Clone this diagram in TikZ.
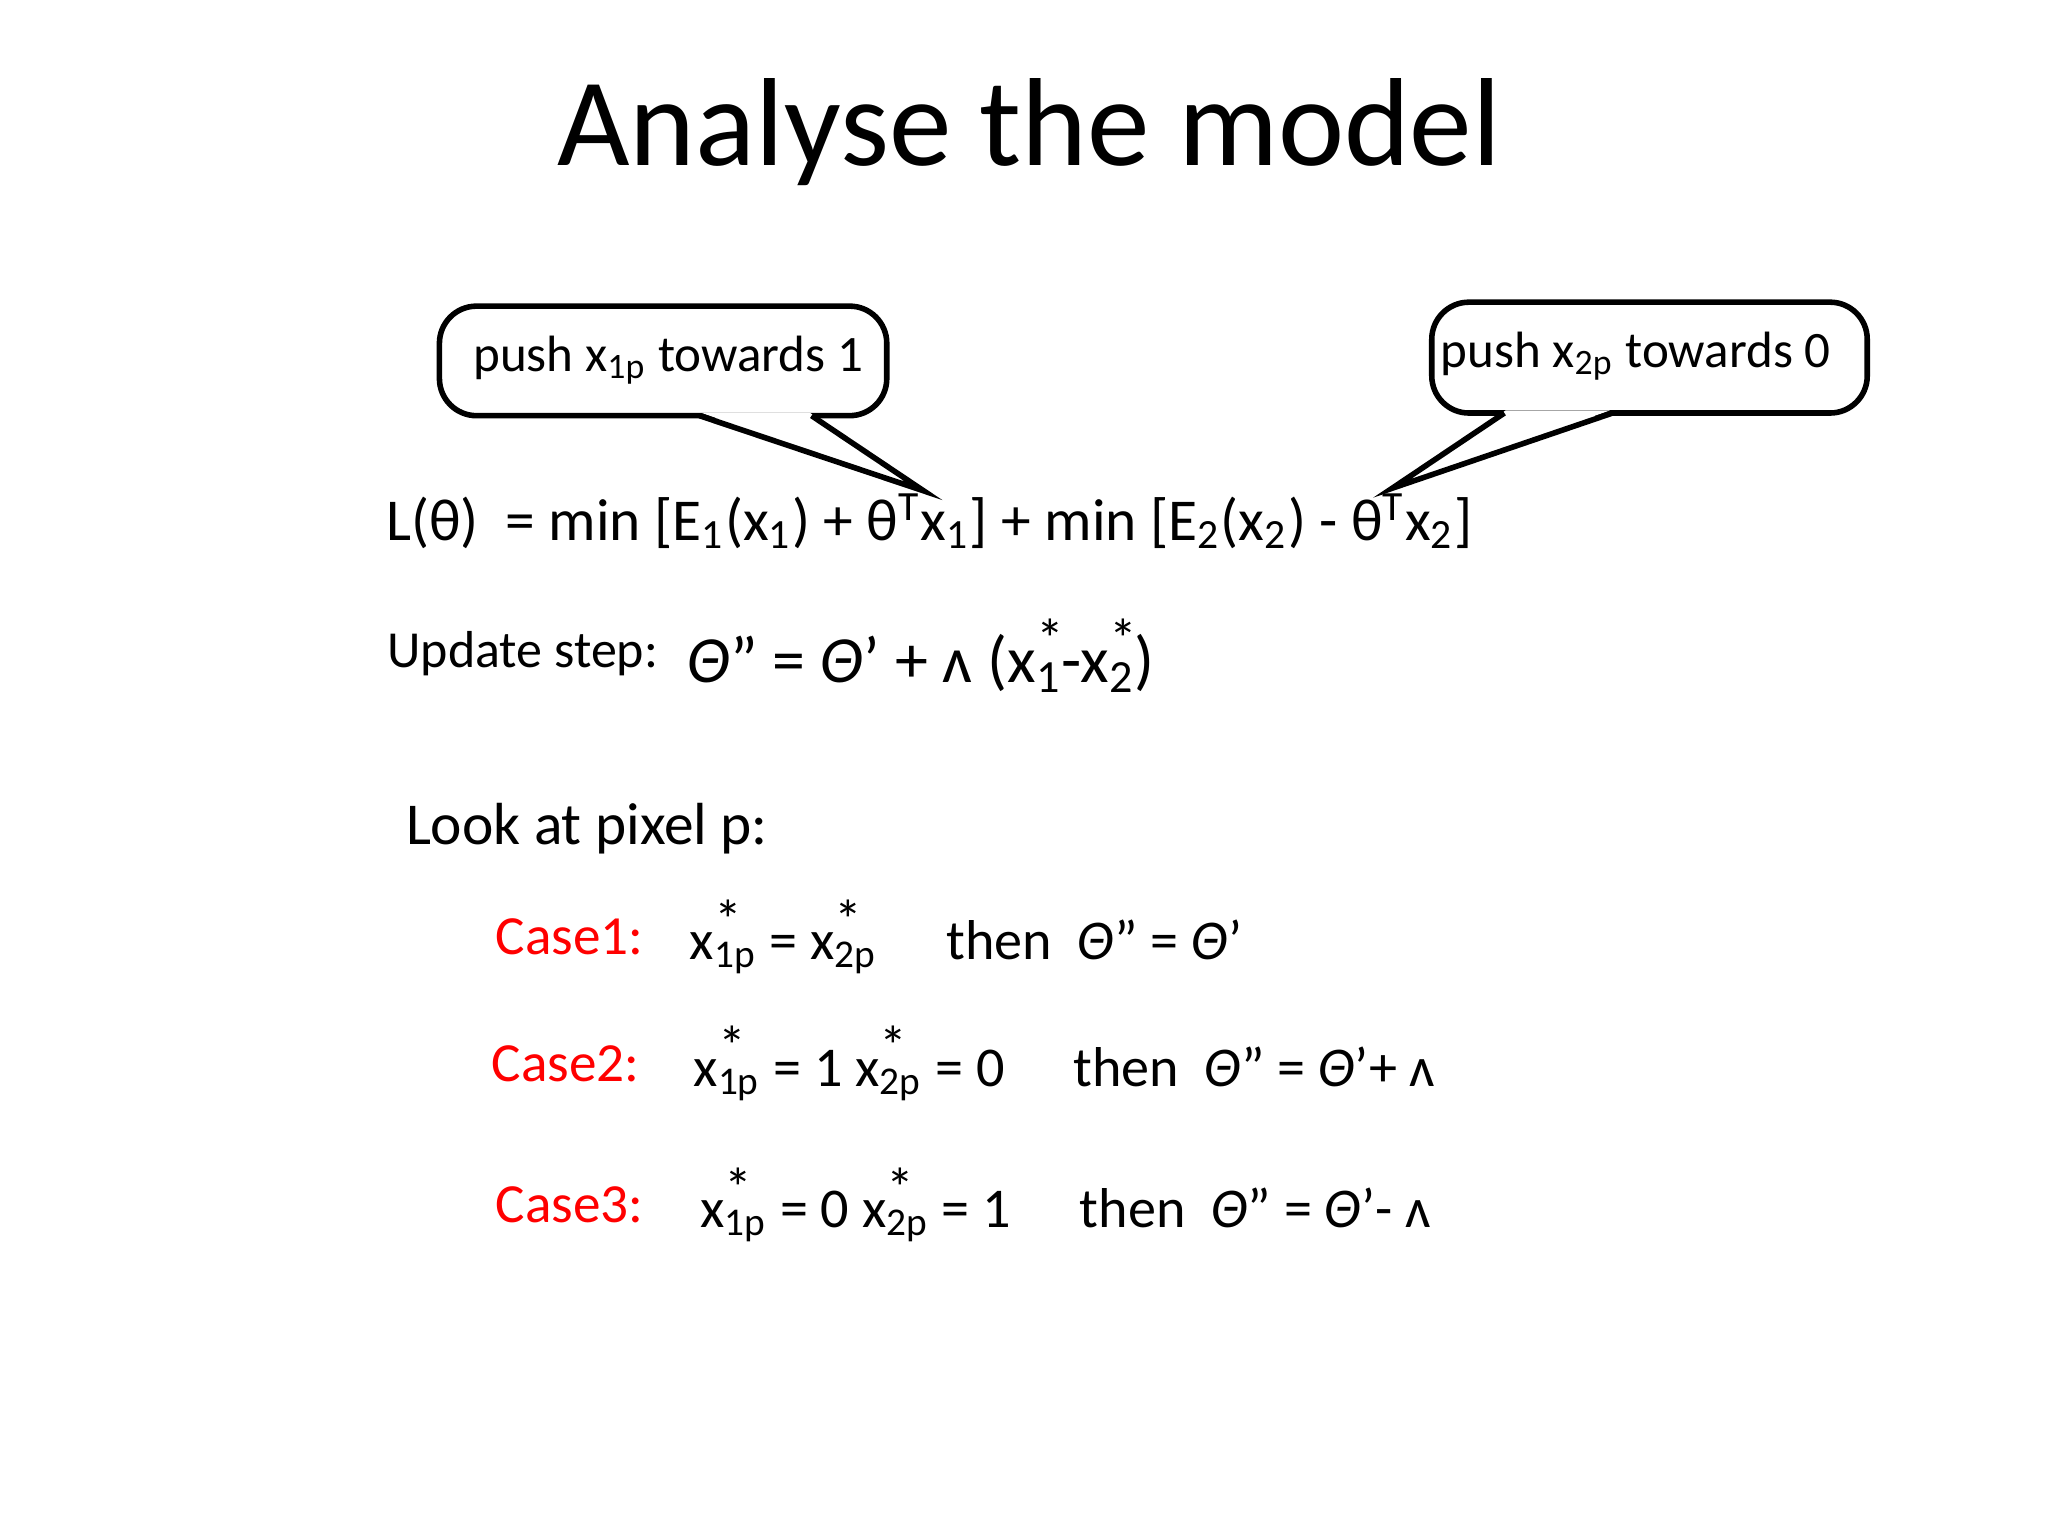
\documentclass[tikz,border=0pt]{standalone}
\usepackage{fontspec}
\setmainfont{Carlito}
\newcommand{\sbs}[1]{\textsubscript{#1}}
\newcommand{\xs}[1]{x\rlap{\textsuperscript{\large *}}\textsubscript{#1}}
\begin{document}
\begin{tikzpicture}[x=0.01cm,y=-0.01cm,
  callout/.style={draw,line width=1.2pt,rounded corners=8pt,fill=white},
  eq/.style={anchor=west,inner sep=0pt,font=\fontsize{12.8}{15}\selectfont},
  casel/.style={anchor=west,inner sep=0pt,font=\fontsize{11.9}{14}\selectfont,text=red},
  caset/.style={anchor=west,inner sep=0pt,font=\fontsize{12.1}{14}\selectfont}]
\useasboundingbox (0,0) rectangle (1552,1164);
\node (title) at (780,100) {\fontsize{27}{32}\selectfont Analyse the model};
% callout 1
\draw[callout] (333,232) rectangle (672,315);
\node[anchor=west,inner sep=0pt,font=\fontsize{11}{13}\selectfont] (c1) at (358,273) {push x\sbs{1p} towards 1};
\coordinate (t1) at (700,372);
\fill[white] (532,313) -- (t1) -- (614,313) -- cycle;
\draw[line width=1.2pt] (530,315) -- (t1) -- (615,315);
% callout 2
\draw[callout] (1085,229) rectangle (1415,313);
\node[anchor=west,inner sep=0pt,font=\fontsize{11}{13}\selectfont] (c2) at (1091,270) {push x\sbs{2p} towards 0};
\coordinate (t2) at (1055,370);
\fill[white] (1141,311) -- (t2) -- (1220,311) -- cycle;
\draw[line width=1.2pt] (1140,313) -- (t2) -- (1222,313);
% equation
\node[eq] (L) at (292,395) {L(θ)\ \ = min [E\sbs{1}(x\sbs{1}) + θ\textsuperscript{T}x\sbs{1}] + min [E\sbs{2}(x\sbs{2}) - θ\textsuperscript{T}x\sbs{2}]};
\node[anchor=west,inner sep=0pt,font=\fontsize{11.2}{13}\selectfont] (up) at (293,495) {Update step:};
\node[anchor=west,inner sep=0pt,font=\fontsize{14.2}{17}\selectfont] (upe) at (520,497) {\textit{Θ}'' = \textit{Θ}' + ʌ (\xs{1}-\xs{2})};
\node[anchor=west,inner sep=0pt,font=\fontsize{12.8}{15}\selectfont] (look) at (307,628) {Look at pixel p:};
\node[casel] (c1l) at (375,710) {Case1:};
\node[caset] (c1t) at (522,710) {\xs{1p} = \xs{2p}\quad\ then\ \ \textit{Θ}'' = \textit{Θ}'};
\node[casel] (c2l) at (372,806) {Case2:};
\node[caset] (c2t) at (525,806) {\xs{1p} = 1 \xs{2p} = 0\quad\ then\ \ \textit{Θ}'' = \textit{Θ}'+ ʌ};
\node[casel] (c3l) at (375,913) {Case3:};
\node[caset] (c3t) at (530,913) {\xs{1p} = 0 \xs{2p} = 1\quad\ then\ \ \textit{Θ}'' = \textit{Θ}'- ʌ};
\end{tikzpicture}
\end{document}
